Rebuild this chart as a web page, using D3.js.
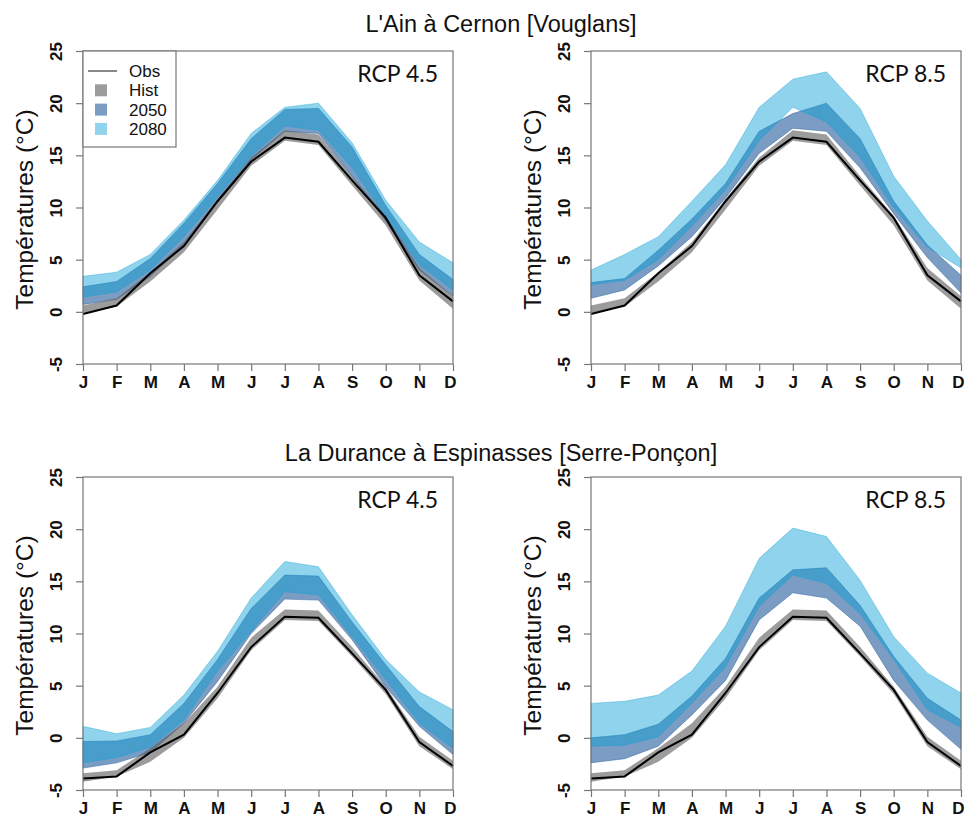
<!DOCTYPE html>
<html>
<head>
<meta charset="utf-8">
<script src="https://cdn.jsdelivr.net/npm/d3@7"></script>
<style>
  body { margin: 0; background: #fff; }
  svg text { fill: #111; }
</style>
</head>
<body>
<div id="chart"></div>
<script>
// month labels
var months = ["J","F","M","A","M","J","J","A","S","O","N","D"];
var yTicks = [-5, 0, 5, 10, 15, 20, 25];

// L'Ain a Cernon - observed and historical simulation
var ainObs    = [-0.2, 0.6, 3.7, 6.3, 10.6, 14.4, 16.7, 16.3, 12.6, 9.0, 3.5, 1.0];
var ainHistLo = [-0.1, 0.5, 2.9, 5.7, 9.8, 14.0, 16.4, 16.0, 12.1, 8.3, 3.0, 0.3];
var ainHistHi = [0.6, 1.3, 3.8, 6.7, 10.8, 14.8, 17.4, 17.0, 13.0, 9.2, 4.2, 1.5];

// Ain RCP 4.5
var ain45_50Lo = [0.7, 1.2, 3.4, 6.4, 10.6, 14.6, 17.3, 17.1, 13.0, 8.7, 4.0, 1.5];
var ain45_50Hi = [2.4, 2.9, 5.1, 8.5, 12.3, 16.6, 19.4, 19.5, 15.8, 10.2, 5.5, 3.1];
var ain45_80Lo = [1.4, 1.9, 4.0, 7.2, 11.0, 14.9, 17.8, 17.4, 13.8, 9.1, 4.5, 2.1];
var ain45_80Hi = [3.4, 3.8, 5.5, 8.8, 12.6, 17.1, 19.6, 20.0, 16.2, 10.7, 6.7, 4.7];

// Ain RCP 8.5
var ain85_50Lo = [1.3, 2.1, 4.4, 7.2, 10.9, 15.2, 17.6, 17.3, 13.8, 9.4, 5.2, 1.8];
var ain85_50Hi = [2.8, 3.2, 5.9, 8.9, 12.3, 17.3, 19.0, 20.0, 16.6, 10.6, 6.4, 3.5];
var ain85_80Lo = [2.6, 3.0, 5.0, 8.2, 11.7, 16.4, 19.6, 18.2, 14.8, 10.0, 6.2, 4.2];
var ain85_80Hi = [4.0, 5.5, 7.2, 10.6, 14.1, 19.6, 22.3, 23.0, 19.5, 13.0, 8.7, 5.0];

// La Durance a Espinasses - observed and historical simulation
var durObs    = [-3.9, -3.7, -1.4, 0.3, 4.3, 8.7, 11.6, 11.5, 8.1, 4.6, -0.4, -2.7];
var durHistLo = [-4.2, -3.7, -2.3, 0.0, 3.8, 8.4, 11.3, 11.2, 7.8, 4.2, -0.8, -3.0];
var durHistHi = [-3.4, -3.1, -1.0, 1.4, 4.9, 9.6, 12.3, 12.2, 8.7, 4.9, 0.1, -2.2];

// Durance RCP 4.5
var dur45_50Lo = [-2.9, -2.4, -1.4, 1.4, 5.4, 10.0, 13.3, 13.2, 9.4, 4.9, 1.1, -1.6];
var dur45_50Hi = [-0.35, -0.3, 0.3, 3.3, 7.5, 12.4, 15.6, 15.5, 11.1, 7.0, 3.0, 0.6];
var dur45_80Lo = [-2.4, -1.9, -0.9, 1.7, 6.4, 10.2, 14.0, 13.7, 9.7, 5.6, 1.4, -1.0];
var dur45_80Hi = [1.1, 0.4, 1.0, 4.1, 8.3, 13.4, 16.9, 16.4, 11.8, 7.5, 4.4, 2.7];

// Durance RCP 8.5
var dur85_50Lo = [-2.4, -2.0, -0.8, 2.2, 5.5, 11.3, 13.9, 13.4, 10.7, 5.5, 1.7, -1.1];
var dur85_50Hi = [0.0, 0.3, 1.3, 4.0, 7.6, 13.4, 16.1, 16.3, 12.7, 7.8, 3.8, 1.7];
var dur85_80Lo = [-0.8, -0.7, 0.1, 3.3, 6.8, 12.6, 15.6, 14.8, 11.9, 7.5, 2.7, 1.0];
var dur85_80Hi = [3.3, 3.5, 4.1, 6.4, 10.7, 17.2, 20.1, 19.3, 15.1, 9.7, 6.2, 4.3];

var legendLabels = ["Obs", "Hist", "2050", "2080"];

(function(){
	var width = 965, height = 820;

	var col = {
		hist: "rgba(90,90,90,0.6)",
		f50: "rgba(35,92,155,0.6)",
		f80: "rgba(10,160,213,0.46)"
	};

	var svg = d3.select("#chart")
		.append("svg")
		.attr("width", width)
		.attr("height", height)
		.style("font-family", "'Liberation Sans', Arial, sans-serif");

	var panels = [
		{x:83, y:51, rcp:"RCP 4.5", obs:ainObs, hLo:ainHistLo, hHi:ainHistHi,
			lo50:ain45_50Lo, hi50:ain45_50Hi, lo80:ain45_80Lo, hi80:ain45_80Hi, legend:true},
		{x:591, y:51, rcp:"RCP 8.5", obs:ainObs, hLo:ainHistLo, hHi:ainHistHi,
			lo50:ain85_50Lo, hi50:ain85_50Hi, lo80:ain85_80Lo, hi80:ain85_80Hi},
		{x:83, y:477, rcp:"RCP 4.5", obs:durObs, hLo:durHistLo, hHi:durHistHi,
			lo50:dur45_50Lo, hi50:dur45_50Hi, lo80:dur45_80Lo, hi80:dur45_80Hi},
		{x:591, y:477, rcp:"RCP 8.5", obs:durObs, hLo:durHistLo, hHi:durHistHi,
			lo50:dur85_50Lo, hi50:dur85_50Hi, lo80:dur85_80Lo, hi80:dur85_80Hi}
	];
	var pw = 370, ph = 313;

	svg.append("text").attr("x", 501).attr("y", 32)
		.attr("text-anchor", "middle")
		.style("font-size", "23.5px")
		.text("L'Ain à Cernon [Vouglans]");
	svg.append("text").attr("x", 501).attr("y", 461)
		.attr("text-anchor", "middle")
		.style("font-size", "23.5px")
		.text("La Durance à Espinasses [Serre-Ponçon]");

	panels.forEach(function(p){
		var x = d3.scaleLinear().domain([0, 11]).range([0, pw]);
		var y = d3.scaleLinear().domain([-5, 25]).range([ph, 0]);

		var g = svg.append("g")
			.attr("transform", "translate(" + p.x + "," + p.y + ")");

		var band = function(lo, hi){
			return d3.area()
				.x(function(d, i){ return x(i); })
				.y0(function(d, i){ return y(lo[i]); })
				.y1(function(d, i){ return y(hi[i]); })(months);
		};

		g.append("path").attr("d", band(p.lo50, p.hi50))
			.attr("fill", col.f50).attr("stroke", col.f50).attr("stroke-width", 0.8);
		g.append("path").attr("d", band(p.lo80, p.hi80))
			.attr("fill", col.f80).attr("stroke", col.f80).attr("stroke-width", 0.8);
		g.append("path").attr("d", band(p.hLo, p.hHi))
			.attr("fill", col.hist);

		g.append("path")
			.attr("d", d3.line()
				.x(function(d, i){ return x(i); })
				.y(function(d){ return y(d); })(p.obs))
			.attr("fill", "none")
			.attr("stroke", "#000")
			.attr("stroke-width", 2);

		// box
		g.append("rect").attr("width", pw).attr("height", ph)
			.attr("fill", "none").attr("stroke", "#777").attr("stroke-width", 1.2);

		// x axis
		var xa = g.append("g").attr("transform", "translate(0," + ph + ")")
			.call(d3.axisBottom(x).tickValues(d3.range(12))
				.tickFormat(function(i){ return months[i]; })
				.tickSize(7).tickSizeOuter(0));
		xa.select(".domain").remove();
		xa.selectAll("line").attr("stroke", "#777").attr("stroke-width", 1.2);
		xa.selectAll("text")
			.attr("y", 12)
			.attr("dy", "0.71em")
			.attr("dx", function(d){ return d === 11 ? -3 : 0; })
			.style("font-family", "'Liberation Sans', Arial, sans-serif")
			.style("font-size", "17px")
			.style("font-weight", "bold")
			.attr("fill", "#111");

		// y axis
		var ya = g.append("g")
			.call(d3.axisLeft(y).tickValues(yTicks)
				.tickFormat(function(d){ return String(d); })
				.tickSize(7).tickSizeOuter(0));
		ya.select(".domain").remove();
		ya.selectAll("line").attr("stroke", "#777").attr("stroke-width", 1.2);
		ya.selectAll("text")
			.attr("x", null).attr("dy", null)
			.attr("text-anchor", "middle")
			.attr("transform", "translate(-21,0) rotate(-90)")
			.style("font-family", "'Liberation Sans', Arial, sans-serif")
			.style("font-size", "17px")
			.style("font-weight", "bold")
			.attr("fill", "#111");

		g.append("text")
			.attr("transform", "translate(-50," + (ph / 2 + 2) + ") rotate(-90)")
			.attr("text-anchor", "middle")
			.style("font-size", "24.5px")
			.text("Températures (°C)");

		g.append("text")
			.attr("x", pw - 15).attr("y", 31)
			.attr("text-anchor", "end")
			.style("font-family", "Lato, 'Open Sans', sans-serif")
			.style("font-size", "23px")
			.text(p.rcp);

		if (p.legend) {
			var lg = g.append("g");
			lg.append("rect").attr("width", 93).attr("height", 96)
				.attr("fill", "#fff").attr("stroke", "#777").attr("stroke-width", 1.2);
			var rows = [
				{type:"line", c:"#888"},
				{type:"sq", c:col.hist},
				{type:"sq", c:col.f50},
				{type:"sq", c:col.f80}
			];
			rows.forEach(function(r, i){
				var cy = 20 + i * 19.3;
				if (r.type === "line") {
					lg.append("line").attr("x1", 5).attr("x2", 34)
						.attr("y1", cy).attr("y2", cy)
						.attr("stroke", r.c).attr("stroke-width", 2);
				} else {
					lg.append("rect").attr("x", 12).attr("y", cy - 6)
						.attr("width", 12).attr("height", 12).attr("fill", r.c);
				}
				lg.append("text").attr("x", 46).attr("y", cy + 6)
					.style("font-size", "17px")
					.text(legendLabels[i]);
			});
		}
	});
})();
</script>
</body>
</html>
